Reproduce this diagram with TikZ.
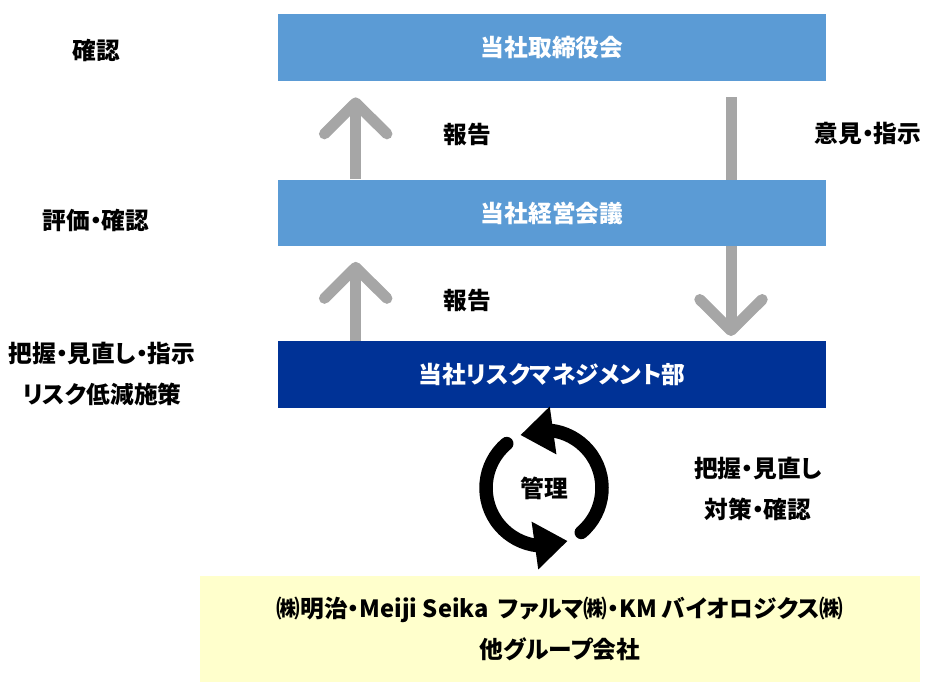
\documentclass[tikz,border=0pt]{standalone}
\usepackage{fontspec}
\setmainfont{Noto Sans CJK JP}[RawFeature=+palt]
\usetikzlibrary{arrows.meta,bending}
\definecolor{ltblue}{RGB}{91,155,213}
\definecolor{dkblue}{RGB}{0,50,150}
\definecolor{arrgray}{RGB}{166,166,166}
\definecolor{paleyel}{RGB}{255,255,204}
\tikzset{
 bluebox/.style={fill=ltblue, minimum width=10.96cm, minimum height=1.34cm, text=white, font=\fontsize{13.5}{16}\selectfont\bfseries},
 riskbox/.style={bluebox, fill=dkblue},
 lbl/.style={font=\fontsize{13.5}{23}\selectfont\bfseries, align=center},
 garrow/.style={line width=0.22cm, arrgray, -{Straight Barb[round, length=0.62cm, width=1.25cm]}},
 cyc/.style={line width=0.27cm, line cap=round, -{Triangle[length=0.66cm, width=0.92cm]}}
}
\begin{document}
\begin{tikzpicture}[x=0.02cm,y=0.02cm]
\useasboundingbox (0,0) rectangle (925,-683);

% down arrow sits behind the middle box
\coordinate (dtop) at (731,-97);
\coordinate (dbot) at (731,-336);
\draw[garrow] (dtop) -- (dbot);

 \node[bluebox] (torishimari) at (552,-47.5) {当社取締役会};
 \node[bluebox] (keiei) at (552,-213) {当社経営会議};
 \node[riskbox] (risk) at (552,-374.5) {当社リスクマネジメント部};
 \node[fill=paleyel, minimum width=14.4cm, minimum height=2.12cm, lbl] (group) at (560,-629)
  {㈱明治・Meiji Seika\,\ ファルマ㈱・KM バイオロジクス㈱\\他グループ会社};

\draw[garrow] ([xshift=1.56cm]keiei.north west) -- ([xshift=1.56cm,yshift=-0.32cm]torishimari.south west);
\draw[garrow] ([xshift=1.56cm]risk.north west) -- ([xshift=1.56cm,yshift=-0.3cm]keiei.south west);

% management cycle
\coordinate (cyccen) at (544,-488);
\draw[cyc] ([shift={(-50:1.16cm)}]cyccen) arc[start angle=-50, end angle=114, radius=1.16cm];
\draw[cyc] ([shift={(130:1.16cm)}]cyccen) arc[start angle=130, end angle=294, radius=1.16cm];
 \node[lbl] (kanri) at (cyccen) {管理};

 \node[lbl] (kakunin) at (96,-50) {確認};
 \node[lbl] (hyoka) at (96,-220) {評価・確認};
 \node[lbl] (haaku) at (102,-374) {把握・見直し・指示\\リスク低減施策};
 \node[lbl] (hokoku1) at (467,-134) {報告};
 \node[lbl] (hokoku2) at (467,-300) {報告};
 \node[lbl] (iken) at (868,-134) {意見・指示};
 \node[lbl] (taisaku) at (758,-489) {把握・見直し\\対策・確認};

\end{tikzpicture}
\end{document}
